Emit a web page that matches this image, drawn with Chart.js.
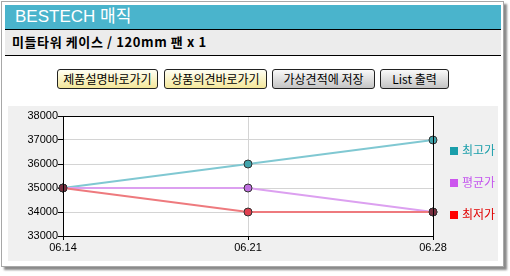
<!DOCTYPE html>
<html>
<head>
<meta charset="utf-8">
<script src="https://cdn.jsdelivr.net/npm/chart.js@4/dist/chart.umd.min.js"></script>
<style>
  html, body { margin:0; padding:0; background:#fff; width:510px; height:276px; overflow:hidden; }
  body { position:relative; font-family:"Noto Sans CJK KR", "Liberation Sans", sans-serif; }
  .frame { position:absolute; left:1px; top:1px; width:501px; height:264px; border:1px solid #a8a8a8; background:#fff; box-shadow:3px 3px 2px #8a8a8a; }
  .titlebar { position:absolute; left:5px; top:5px; width:496px; height:24px; background:#4ab4cc; color:#fff; font-family:"Liberation Sans", "Noto Sans CJK KR", sans-serif; font-size:17px; line-height:24px; padding-left:10px; box-sizing:border-box; }
  .subbar { position:absolute; left:5px; top:29px; width:496px; height:27px; background:#ececec; border-top:1px solid #000; border-bottom:1px solid #000; box-sizing:border-box; font-size:13px; font-weight:bold; line-height:24px; padding-left:7px; color:#000; letter-spacing:0.6px; }
  .btn { position:absolute; top:69px; height:20px; border:1px solid #222; border-radius:3px; box-sizing:border-box; font-size:12px; line-height:18px; text-align:center; color:#000; }
  .yellow { background:linear-gradient(#fffff4, #f4e79a); }
  .gray { background:linear-gradient(#fafafa, #c4c4c4); }
  .panel { position:absolute; left:8px; top:106px; width:490px; height:155px; background:#f0f0f0; }
  canvas { position:absolute; left:0; top:0; }
  .leg { position:absolute; left:442px; font-size:12px; line-height:14px; height:14px; white-space:nowrap; }
  .leg i { display:inline-block; width:8px; height:8px; margin-right:4px; vertical-align:0px; }
</style>
</head>
<body>
<div class="frame"></div>
<div class="titlebar">BESTECH 매직</div>
<div class="subbar">미들타워 케이스 / 120mm 팬 x 1</div>
<div class="btn yellow" style="left:57px;width:101px;">제품설명바로가기</div>
<div class="btn yellow" style="left:164px;width:103px;">상품의견바로가기</div>
<div class="btn gray" style="left:272px;width:103px;">가상견적에 저장</div>
<div class="btn gray" style="left:380px;width:69px;">List 출력</div>
<div class="panel">
  <canvas id="c" width="490" height="155"></canvas>
  <div class="leg" style="top:37px;color:#1a9eaa;"><i style="background:#1a9eaa"></i>최고가</div>
  <div class="leg" style="top:69px;color:#c455ee;"><i style="background:#cc55ee"></i>평균가</div>
  <div class="leg" style="top:101px;color:#e00000;"><i style="background:#ff0000"></i>최저가</div>
</div>
<script>
const labels = ['06.14', '06.21', '06.28'];
const maxPrice = [35000, 36000, 37000];
const avgPrice = [35000, 35000, 34000];
const minPrice = [35000, 34000, 34000];
const yMin = 33000, yMax = 38000, yStep = 1000;

const frameBox = {
  id: 'frameBox',
  beforeDraw(chart) {
    const a = chart.chartArea, ctx = chart.ctx;
    ctx.save(); ctx.fillStyle = '#fff';
    ctx.fillRect(a.left, a.top, a.right - a.left, a.bottom - a.top);
    ctx.restore();
  },
  afterDatasetsDraw(chart) {
    const a = chart.chartArea, ctx = chart.ctx;
    ctx.save(); ctx.strokeStyle = '#000'; ctx.lineWidth = 1;
    ctx.strokeRect(Math.round(a.left) + 0.5, Math.round(a.top) + 0.5, Math.round(a.right - a.left), Math.round(a.bottom - a.top));
    ctx.restore();
  }
};

new Chart(document.getElementById('c'), {
  type: 'line',
  data: {
    labels: labels,
    datasets: [
      { label: '최고가', order: 3, data: maxPrice, borderColor: '#80c8d2', backgroundColor: '#40a4ac', pointBackgroundColor: '#40a4ac', borderWidth: 2, pointRadius: 4, pointBorderColor: '#333', pointBorderWidth: 1 },
      { label: '평균가', order: 2, data: avgPrice, borderColor: '#dca0f0', backgroundColor: '#c070e0', pointBackgroundColor: '#c070e0', borderWidth: 2, pointRadius: 4, pointBorderColor: '#333', pointBorderWidth: 1 },
      { label: '최저가', order: 1, data: minPrice, borderColor: '#ee7a7e', backgroundColor: '#e04050', pointBackgroundColor: ['#7a3040', '#e04050', '#7a3040'], borderWidth: 2, pointRadius: 4, pointBorderColor: '#333', pointBorderWidth: 1 }
    ]
  },
  options: {
    responsive: false,
    animation: false,
    layout: { padding: { left: 0, right: 65, top: 10, bottom: 0 } },
    plugins: { legend: { display: false }, tooltip: { enabled: false } },
    elements: { line: { tension: 0 } },
    scales: {
      x: {
        offset: false,
        grid: { color: '#d4d4d4', tickColor: '#000', tickLength: 4 },
        border: { color: '#000' },
        ticks: { color: '#000', font: { family: 'Liberation Sans', size: 11 }, padding: 1, maxRotation: 0 },
        afterFit(s) { s.height = 25; }
      },
      y: {
        min: yMin, max: yMax,
        grid: { color: '#d4d4d4', tickColor: '#000', tickLength: 5 },
        border: { color: '#000' },
        ticks: { stepSize: yStep, color: '#000', font: { family: 'Liberation Sans', size: 11 }, padding: 0, callback: v => String(v) },
        afterFit(s) { s.width = 55; }
      }
    }
  },
  plugins: [frameBox]
});
</script>
</body>
</html>
